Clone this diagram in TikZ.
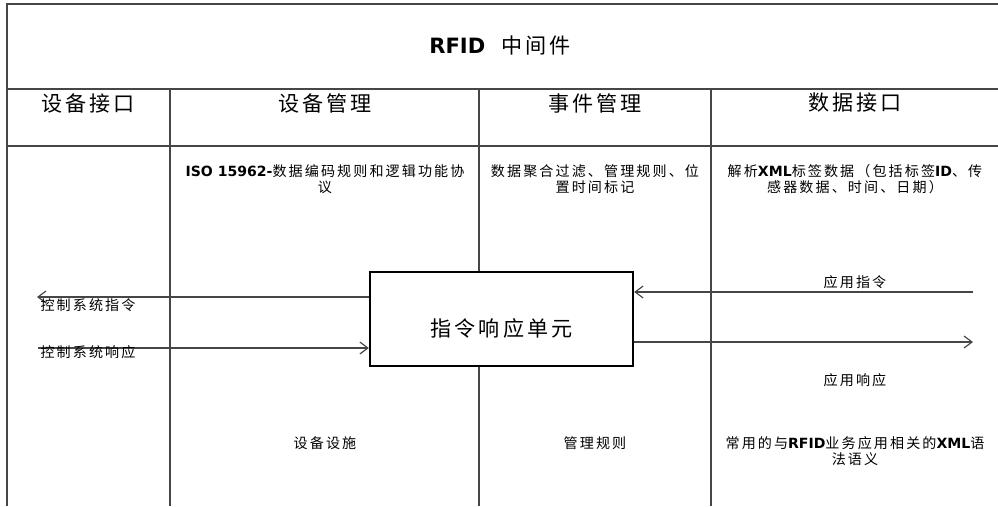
\documentclass[tikz,border=0pt]{standalone}
\usepackage{fontspec}
\setmainfont{Noto Sans CJK SC}[LetterSpace=15]
\newfontfamily\latbf{DejaVu Sans}
\usepackage{tikz}
\usetikzlibrary{positioning, arrows.meta}
\definecolor{rulegray}{RGB}{70,70,70}

\tikzset{
  rule/.style={draw=rulegray, line width=1pt},
  title/.style={font=\fontsize{18}{20}\selectfont},
  colhead/.style={font=\fontsize{18}{20}\selectfont},
  celltext/.style={font=\fontsize{12}{13.6}\selectfont, align=center, inner sep=0pt},
  unitbox/.style={draw, line width=2pt, fill=white, minimum width=78.9mm,
                  minimum height=28.2mm, font=\fontsize{18}{20}\selectfont},
  flow/.style={-{Straight Barb[length=2.4mm,width=3.6mm]}, draw=rulegray, line width=1pt},
}
\newcommand{\bl}[1]{{\latbf\bfseries #1}}

\begin{document}
\begin{tikzpicture}[x=0.3mm,y=-0.3mm]
  \useasboundingbox (0,0) rectangle (998,506);
  % table lines
  \draw[rule] (998,4) -- (7,4) -- (7,506);
  \draw[rule] (7,89) -- (998,89);
  \draw[rule] (7,146) -- (998,146);
  \foreach \x in {170,479,711}
    \draw[rule] (\x,89) -- (\x,506);

  \coordinate (ctlcmd) at (37,297);
  \coordinate (ctlres) at (38,348);
  \coordinate (appcmd) at (973,292);
  \coordinate (appres) at (973,342);

  \node[title] (head) at (500,45) {\bl{RFID}\ \ 中间件};
  \node[colhead] (devif) at (88,103) {设备接口};
  \node[colhead] (devmgr) at (325,103) {设备管理};
  \node[colhead] (evtmgr) at (595,103) {事件管理};
  \node[colhead] (dataif) at (855,103) {数据接口};

  \node[celltext] (devtop) at (325,179) {\bl{ISO 15962-}数据编码规则和逻辑功能协\\议};
  \node[celltext] (evttop) at (595,179) {数据聚合过滤、管理规则、位\\置时间标记};
  \node[celltext] (datatop) at (855,179) {解析\bl{XML}标签数据（包括标签\bl{ID}、传\\感器数据、时间、日期）};

  \node[celltext] (devbot) at (325,443) {设备设施};
  \node[celltext] (evtbot) at (595,443) {管理规则};
  \node[celltext] (databot) at (855,451) {常用的与\bl{RFID}业务应用相关的\bl{XML}语\\法语义};

  \node[unitbox] (unit) at (501.5,319) {\raisebox{-2.7mm}[\height][\depth]{指令响应单元}};

  \path[flow] (unit.west |- ctlcmd) -- (ctlcmd);
  \path[flow] (ctlres) -- (unit.west |- ctlres);
  \path[flow] (appcmd) -- (unit.east |- appcmd);
  \path[flow] (unit.east |- appres) -- (appres);

  \node[celltext] (ctlcmdlbl) at (88,305) {控制系统指令};
  \node[celltext] (ctlreslbl) at (88,352) {控制系统响应};
  \node[celltext] (appcmdlbl) at (855,282) {应用指令};
  \node[celltext] (appreslbl) at (855,380) {应用响应};
\end{tikzpicture}
\end{document}
